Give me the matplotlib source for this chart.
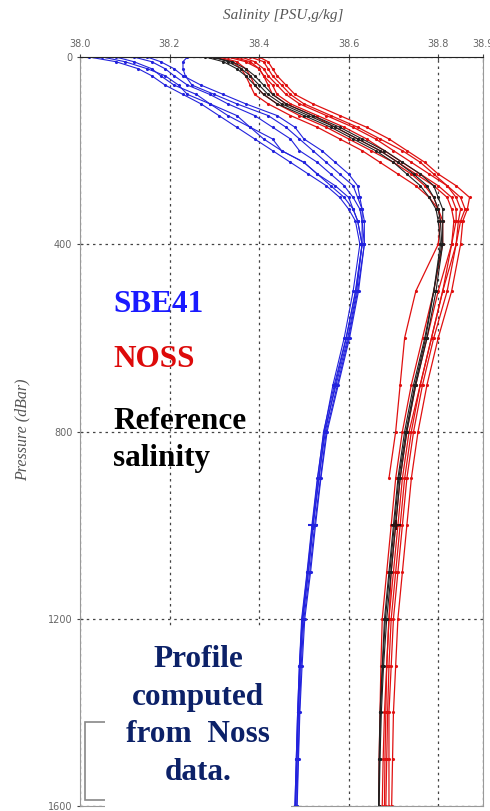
import numpy as np
import matplotlib
matplotlib.use("Agg")
import matplotlib.pyplot as plt
import matplotlib.patches as mpatches

nan = np.nan

# pressure levels (dBar)
PRES = [0, 10, 25, 40, 60, 80, 100, 125, 150, 175, 200, 225, 250, 275, 300, 325, 350, 400,
        500, 600, 700, 800, 900, 1000, 1100, 1200, 1300, 1400, 1500, 1600]

# SBE41 salinity profiles
SBE41 = [
    [38.02, 38.08, 38.13, 38.16, 38.19, 38.23, 38.27, 38.31, 38.35, 38.39, 38.43, 38.47, 38.51, 38.55, 38.58, 38.60, 38.615, 38.625,
     38.61, 38.59, 38.565, 38.545, 38.53, 38.518, 38.507, 38.495, 38.49, 38.486, 38.483, 38.48],
    [38.08, 38.12, 38.16, 38.18, 38.21, 38.26, 38.29, 38.35, 38.38, 38.43, 38.45, 38.50, 38.53, 38.57, 38.60, 38.61, 38.62, 38.63,
     38.615, 38.595, 38.57, 38.548, 38.533, 38.52, 38.51, 38.498, 38.492, 38.488, 38.485, 38.482],
    [38.12, 38.16, 38.19, 38.21, 38.24, 38.29, 38.33, 38.39, 38.43, 38.47, 38.49, 38.53, 38.56, 38.59, 38.61, 38.625, 38.63, 38.635,
     38.62, 38.60, 38.575, 38.55, 38.537, 38.524, 38.513, 38.50, 38.494, 38.49, 38.487, 38.484],
    [38.24, 38.23, 38.23, 38.235, 38.25, 38.30, 38.35, 38.42, 38.46, 38.49, 38.52, 38.55, 38.58, 38.61, 38.62, 38.63, 38.63, 38.63,
     38.618, 38.598, 38.572, 38.546, 38.534, 38.521, 38.51, 38.497, 38.491, 38.487, 38.484, 38.481],
    [38.15, 38.18, 38.21, 38.23, 38.27, 38.32, 38.37, 38.44, 38.48, 38.50, 38.54, 38.57, 38.60, 38.62, 38.625, 38.63, 38.635, 38.635,
     38.622, 38.602, 38.577, 38.552, 38.538, 38.526, 38.515, 38.502, 38.496, 38.491, 38.488, 38.485],
    [38.05, 38.10, 38.15, 38.19, 38.22, 38.24, 38.29, 38.33, 38.38, 38.41, 38.45, 38.50, 38.53, 38.56, 38.59, 38.61, 38.62, 38.63,
     38.616, 38.594, 38.568, 38.544, 38.531, 38.519, 38.508, 38.496, 38.49, 38.486, 38.483, 38.48],
]

# NOSS salinity profiles
NOSS = [
    [38.30, 38.34, 38.36, 38.37, 38.38, 38.39, 38.42, 38.47, 38.53, 38.58, 38.63, 38.67, 38.71, 38.75, 38.78, 38.80, 38.81, 38.81,
     38.79, 38.765, 38.74, 38.72, 38.705, 38.695, 38.685, 38.675, 38.672, 38.670, 38.668, 38.667],
    [38.33, 38.37, 38.40, 38.41, 38.42, 38.43, 38.46, 38.52, 38.57, 38.62, 38.67, 38.71, 38.75, 38.79, 38.82, 38.83, 38.835, 38.83,
     38.80, 38.775, 38.75, 38.73, 38.715, 38.705, 38.695, 38.69, 38.685, 38.683, 38.681, 38.68],
    [38.36, 38.39, 38.41, 38.42, 38.44, 38.46, 38.49, 38.55, 38.61, 38.66, 38.70, 38.74, 38.78, 38.82, 38.85, 38.86, 38.85, 38.84,
     38.82, 38.79, 38.765, 38.745, 38.73, 38.72, 38.71, 38.70, 38.695, 38.69, 38.69, 38.69],
    [38.40, 38.42, 38.43, 38.44, 38.46, 38.48, 38.52, 38.58, 38.64, 38.69, 38.73, 38.77, 38.80, 38.84, 38.87, 38.865, 38.855, 38.85,
     38.83, 38.80, 38.775, 38.755, 38.74, 38.73, 38.72, 38.71, 38.705, 38.70, 38.698, 38.696],
    [38.31, 38.35, 38.37, 38.38, 38.39, 38.41, 38.44, 38.49, 38.55, 38.60, 38.65, 38.70, 38.74, 38.77, 38.79, 38.80, 38.805, 38.80,
     38.75, 38.725, 38.715, 38.705, 38.69, nan, nan, nan, nan, nan, nan, nan],
    [38.38, 38.41, 38.42, 38.43, 38.45, 38.47, 38.50, 38.56, 38.62, 38.67, 38.72, 38.76, 38.79, 38.82, 38.84, 38.85, 38.845, 38.84,
     38.81, 38.785, 38.76, 38.74, 38.725, 38.715, 38.705, 38.695, 38.69, 38.687, 38.685, 38.683],
    [38.34, 38.38, 38.40, 38.41, 38.43, 38.44, 38.47, 38.53, 38.59, 38.64, 38.68, 38.72, 38.76, 38.80, 38.83, 38.84, 38.84, 38.83,
     38.81, 38.785, 38.76, 38.735, 38.72, 38.71, 38.70, 38.69, 38.685, 38.68, 38.677, 38.675],
]

# reference salinity profiles
REF = [
    [38.28, 38.32, 38.35, 38.37, 38.39, 38.41, 38.44, 38.50, 38.56, 38.61, 38.66, 38.70, 38.73, 38.76, 38.78, 38.795, 38.80, 38.805,
     38.79, 38.77, 38.745, 38.725, 38.71, 38.70, 38.69, 38.68, 38.675, 38.67, 38.668, 38.667],
    [38.29, 38.34, 38.37, 38.39, 38.41, 38.43, 38.46, 38.52, 38.58, 38.63, 38.68, 38.72, 38.76, 38.79, 38.80, 38.81, 38.81, 38.81,
     38.795, 38.775, 38.75, 38.73, 38.715, 38.705, 38.695, 38.685, 38.678, 38.673, 38.67, 38.668],
    [38.30, 38.33, 38.36, 38.38, 38.40, 38.42, 38.45, 38.51, 38.57, 38.62, 38.67, 38.71, 38.745, 38.775, 38.79, 38.80, 38.805, 38.808,
     38.79, 38.772, 38.748, 38.728, 38.712, 38.702, 38.692, 38.682, 38.676, 38.671, 38.669, 38.667],
]

XTICKS = [38.0, 38.2, 38.4, 38.6, 38.8, 38.9]
YTICKS = [0, 400, 800, 1200, 1600]

W, H = 490, 811
fig = plt.figure(figsize=(W / 100, H / 100), dpi=100)
ax = fig.add_axes([80 / W, 1 - 806 / H, 403 / W, 749 / H])

for s in SBE41:
    ax.plot(s, PRES, color='#2222dd', lw=0.8, marker='.', ms=2.5)
for s in NOSS:
    ax.plot(s, PRES, color='#e01010', lw=0.9, marker='.', ms=2.5)
for s in REF:
    ax.plot(s, PRES, color='#202020', lw=0.8, marker='.', ms=2.5)
# highlighted points near 1000 dBar
i1000 = PRES.index(1000)
ax.plot(SBE41[1][i1000], PRES[i1000], marker='+', color='#2222dd', ms=7, mew=1.5)
ax.plot(REF[1][i1000], PRES[i1000], marker='+', color='#301010', ms=7, mew=1.5)

ax.set_xlim(38.0, 38.9)
ax.set_ylim(1600, 0)
ax.set_xticks(XTICKS)
ax.set_xticklabels([f"{t:.1f}" for t in XTICKS])
ax.set_yticks(YTICKS)
ax.xaxis.tick_top()
ax.tick_params(axis='both', labelsize=7, labelcolor='#666666', direction='inout', length=4, color='#444444')
ax.grid(True, ls=(0, (2, 3)), color='#444444', lw=0.9)
for sp in ax.spines.values():
    sp.set_color('#999999')
ax.spines['top'].set_color('#222222')

fig.text(283 / W, 1 - 16 / H, "Salinity [PSU,g/kg]", ha='center', va='center',
         fontsize=11, style='italic', family='Liberation Serif', color='#555555')
fig.text(22 / W, 1 - 430 / H, "Pressure (dBar)", ha='center', va='center', rotation=90,
         fontsize=11.5, style='italic', family='Liberation Serif', color='#555555')

serif = dict(family='Liberation Serif', fontweight='bold', fontsize=22.5)
fig.text(113 / W, 1 - 305 / H, "SBE41", color='#1a1aff', ha='left', va='center', **serif)
fig.text(113 / W, 1 - 360 / H, "NOSS", color='#dd0a0a', ha='left', va='center', **serif)
fig.text(113 / W, 1 - 440 / H, "Reference\nsalinity", color='black', ha='left', va='center',
         linespacing=1.4, **serif)

# remnant of legend box, partly covered
fig.add_artist(mpatches.Rectangle((85 / W, 1 - 800 / H), 40 / W, 78 / H, transform=fig.transFigure,
                                  facecolor='white', edgecolor='#888888', lw=1.2, zorder=4))
fig.add_artist(mpatches.Rectangle((105 / W, 0), 186 / W, (H - 628) / H, transform=fig.transFigure,
                                  facecolor='white', edgecolor='none', zorder=5))
fig.text(198 / W, 1 - 716 / H, "Profile\ncomputed\nfrom  Noss\ndata.", color='#0c2168',
         ha='center', va='center', linespacing=1.38, zorder=6, **serif)

fig.savefig("out.png", dpi=100)
